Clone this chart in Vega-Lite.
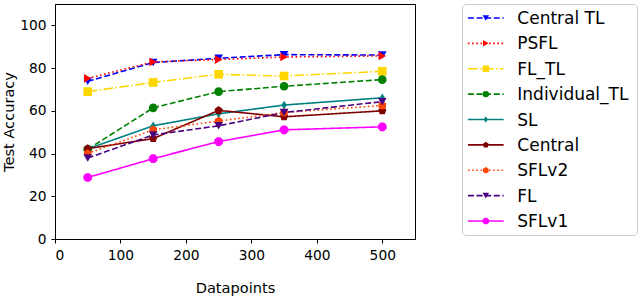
{
  "$schema": "https://vega.github.io/schema/vega-lite/v6.json",
  "padding": {"left": 1, "top": 1, "right": 2, "bottom": 2},
  "background": "white",
  "datasets": {
    "acc": [
      {"series": "Central TL", "datapoints": 50, "accuracy": 73.8},
      {"series": "Central TL", "datapoints": 150, "accuracy": 82.6},
      {"series": "Central TL", "datapoints": 250, "accuracy": 84.6},
      {"series": "Central TL", "datapoints": 350, "accuracy": 86.3},
      {"series": "Central TL", "datapoints": 500, "accuracy": 86.1},
      {"series": "PSFL", "datapoints": 50, "accuracy": 75.2},
      {"series": "PSFL", "datapoints": 150, "accuracy": 82.9},
      {"series": "PSFL", "datapoints": 250, "accuracy": 84.0},
      {"series": "PSFL", "datapoints": 350, "accuracy": 85.2},
      {"series": "PSFL", "datapoints": 500, "accuracy": 85.7},
      {"series": "FL_TL", "datapoints": 50, "accuracy": 69.0},
      {"series": "FL_TL", "datapoints": 150, "accuracy": 73.3},
      {"series": "FL_TL", "datapoints": 250, "accuracy": 77.1},
      {"series": "FL_TL", "datapoints": 350, "accuracy": 76.3},
      {"series": "FL_TL", "datapoints": 500, "accuracy": 78.5},
      {"series": "Individual_TL", "datapoints": 50, "accuracy": 42.0},
      {"series": "Individual_TL", "datapoints": 150, "accuracy": 61.4},
      {"series": "Individual_TL", "datapoints": 250, "accuracy": 69.0},
      {"series": "Individual_TL", "datapoints": 350, "accuracy": 71.5},
      {"series": "Individual_TL", "datapoints": 500, "accuracy": 74.6},
      {"series": "SL", "datapoints": 50, "accuracy": 42.2},
      {"series": "SL", "datapoints": 150, "accuracy": 53.0},
      {"series": "SL", "datapoints": 250, "accuracy": 58.6},
      {"series": "SL", "datapoints": 350, "accuracy": 62.7},
      {"series": "SL", "datapoints": 500, "accuracy": 66.1},
      {"series": "Central", "datapoints": 50, "accuracy": 42.3},
      {"series": "Central", "datapoints": 150, "accuracy": 47.0},
      {"series": "Central", "datapoints": 250, "accuracy": 60.2},
      {"series": "Central", "datapoints": 350, "accuracy": 57.2},
      {"series": "Central", "datapoints": 500, "accuracy": 60.0},
      {"series": "SFLv2", "datapoints": 50, "accuracy": 40.0},
      {"series": "SFLv2", "datapoints": 150, "accuracy": 51.1},
      {"series": "SFLv2", "datapoints": 250, "accuracy": 55.2},
      {"series": "SFLv2", "datapoints": 350, "accuracy": 59.2},
      {"series": "SFLv2", "datapoints": 500, "accuracy": 62.5},
      {"series": "FL", "datapoints": 50, "accuracy": 37.9},
      {"series": "FL", "datapoints": 150, "accuracy": 48.7},
      {"series": "FL", "datapoints": 250, "accuracy": 53.0},
      {"series": "FL", "datapoints": 350, "accuracy": 59.2},
      {"series": "FL", "datapoints": 500, "accuracy": 64.3},
      {"series": "SFLv1", "datapoints": 50, "accuracy": 28.8},
      {"series": "SFLv1", "datapoints": 150, "accuracy": 37.6},
      {"series": "SFLv1", "datapoints": 250, "accuracy": 45.6},
      {"series": "SFLv1", "datapoints": 350, "accuracy": 51.1},
      {"series": "SFLv1", "datapoints": 500, "accuracy": 52.5}
    ],
    "names": [
      {"series": "Central TL"}, {"series": "PSFL"}, {"series": "FL_TL"},
      {"series": "Individual_TL"}, {"series": "SL"}, {"series": "Central"},
      {"series": "SFLv2"}, {"series": "FL"}, {"series": "SFLv1"}
    ]
  },
  "config": {
    "font": "DejaVu Sans",
    "axis": {
      "grid": false,
      "domainColor": "black",
      "tickColor": "black",
      "labelColor": "black",
      "titleColor": "black",
      "labelFont": "DejaVu Sans",
      "titleFont": "DejaVu Sans",
      "labelFontSize": 13.8,
      "titleFontSize": 14.6,
      "titleFontWeight": "normal",
      "tickSize": 4,
      "labelPadding": 5
    },
    "concat": {"spacing": 45}
  },
  "resolve": {"scale": {"color": "shared", "shape": "shared", "strokeDash": "shared", "x": "independent", "y": "independent"}},
  "hconcat": [
    {
      "width": 360,
      "height": 235,
      "title": {"text": " ", "fontSize": 1, "offset": 1},
      "view": {"stroke": "black", "strokeWidth": 1},
      "data": {"name": "acc"},
      "encoding": {
        "x": {"field": "datapoints", "type": "quantitative", "title": "Datapoints",
              "scale": {"domain": [0, 550], "nice": false},
              "axis": {"values": [0, 100, 200, 300, 400, 500], "titlePadding": 19}},
        "y": {"field": "accuracy", "type": "quantitative", "title": "Test Accuracy",
              "scale": {"domain": [0, 110], "nice": false},
              "axis": {"values": [0, 20, 40, 60, 80, 100], "titlePadding": 3}},
        "color": {"field": "series", "type": "nominal", "legend": null,
                  "scale": {"domain": ["Central TL", "PSFL", "FL_TL", "Individual_TL", "SL", "Central", "SFLv2", "FL", "SFLv1"],
                            "range": ["#0000ff", "#ff0000", "#ffd700", "#008000", "#008080", "#800000", "#ff4500", "#4b0082", "#ff00ff"]}}
      },
      "layer": [
        {
          "mark": {"type": "line", "strokeWidth": 1.6},
          "encoding": {
            "strokeDash": {"field": "series", "type": "nominal", "legend": null,
              "scale": {"domain": ["Central TL", "PSFL", "FL_TL", "Individual_TL", "SL", "Central", "SFLv2", "FL", "SFLv1"],
                        "range": [[6, 2.6], [1.6, 2.6], [9.6, 2.4, 1.6, 2.4], [6, 2.6], [1, 0], [1, 0], [1.6, 2.6], [6, 2.6], [1, 0]]}}
          }
        },
        {
          "mark": {"type": "point", "filled": true, "opacity": 1, "size": 75},
          "encoding": {
            "shape": {"field": "series", "type": "nominal", "legend": null,
              "scale": {"domain": ["Central TL", "PSFL", "FL_TL", "Individual_TL", "SL", "Central", "SFLv2", "FL", "SFLv1"],
                        "range": ["triangle-down", "triangle-right", "square", "circle", "M0,-1L0.62,0L0,1L-0.62,0Z", "M0,-1L0.951,-0.309L0.588,0.809L-0.588,0.809L-0.951,-0.309Z", "M0,-1L0.866,-0.5L0.866,0.5L0,1L-0.866,0.5L-0.866,-0.5Z", "triangle-down", "M-0.41,-1L0.41,-1L1,-0.41L1,0.41L0.41,1L-0.41,1L-1,0.41L-1,-0.41Z"]}}
          }
        }
      ]
    },
    {
      "width": 175,
      "height": 231,
      "view": {"stroke": "#cccccc", "strokeWidth": 1, "cornerRadius": 4},
      "data": {"name": "names"},
      "encoding": {
        "y": {"field": "series", "type": "nominal", "axis": null,
              "sort": ["Central TL", "PSFL", "FL_TL", "Individual_TL", "SL", "Central", "SFLv2", "FL", "SFLv1"],
              "scale": {"type": "point", "padding": 0.55}},
        "color": {"field": "series", "type": "nominal", "legend": null}
      },
      "layer": [
        {
          "mark": {"type": "rule", "strokeWidth": 1.6},
          "encoding": {
            "x": {"datum": 0.034, "type": "quantitative", "scale": {"domain": [0, 1], "nice": false}, "axis": null},
            "x2": {"datum": 0.238},
            "strokeDash": {"field": "series", "type": "nominal", "legend": null}
          }
        },
        {
          "mark": {"type": "point", "filled": true, "opacity": 1, "size": 42},
          "encoding": {
            "x": {"datum": 0.136, "type": "quantitative"},
            "shape": {"field": "series", "type": "nominal", "legend": null}
          }
        },
        {
          "mark": {"type": "text", "align": "left", "baseline": "middle", "fontSize": 17, "font": "DejaVu Sans", "dy": 1},
          "encoding": {
            "x": {"datum": 0.316, "type": "quantitative"},
            "text": {"field": "series"},
            "color": {"value": "black"}
          }
        }
      ]
    }
  ]
}
